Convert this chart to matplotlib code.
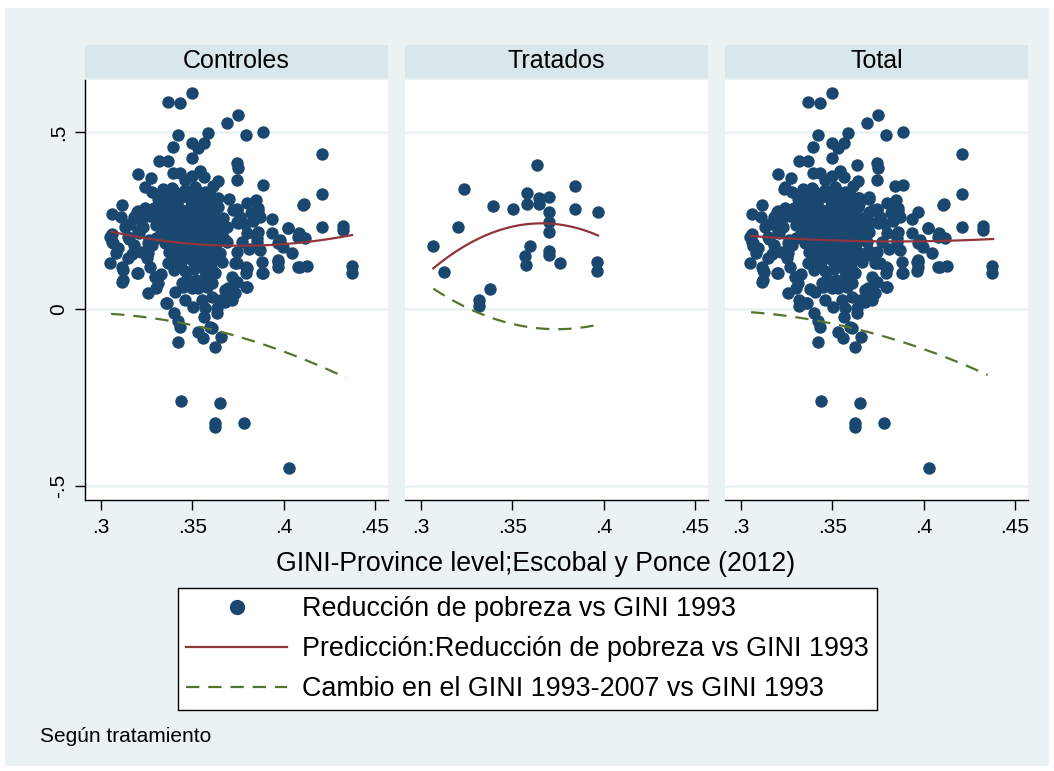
import numpy as np
import matplotlib
matplotlib.use("Agg")
import matplotlib.pyplot as plt
from matplotlib.lines import Line2D
from matplotlib.patches import Rectangle

plt.rcParams['font.family'] = ['Liberation Sans', 'DejaVu Sans']

# --- data ---
panels = ["Controles", "Tratados", "Total"]
xticks = [.3, .35, .4, .45]
xtick_labels = [".3", ".35", ".4", ".45"]
yticks = [-.5, 0, .5]
ytick_labels = ["-.5", "0", ".5"]

# Controles: GINI 1993 vs reduccion de pobreza
ctrl_x = [.350, .3368, .3431, .3748, .369, .3887, .3792, .3423, .3584, .3496, .3562, .3533, .3394, .3317, .3368,
          .3496, .3743, .3748, .3743, .3887, .3204, .3274, .3241, .3277, .3396, .3432, .3496, .3542, .3565, .3642,
          .3615, .346, .339, .346, .3514, .3642, .3848, .4107, .3117, .3062, .3108, .3201, .3241, .335, .3332,
          .3743, .3615, .3861, .387, .3934, .3743, .4025, .4085, .3798, .3232, .3062, .315, .3049, .3067, .3049,
          .3113, .315, .3201, .3117, .3256, .3356, .3401, .342, .342, .3505, .3565, .3533, .356, .3606, .3657,
          .3624, .3633, .3715, .3743, .3798, .3798, .3743, .3888, .3880, .397, .408, .4044, .397, .3852, .3934,
          .408, .3715, .3679, .3679, .3296, .3314, .3442, .346, .3405, .3533, .3551, .3606, .3606, .3606, .3624,
          .3587, .3368, .3259, .3259, .3438, .3651, .3624, .3624, .3784, .4029, .4208, .4208, .4113, .3743, .3748,
          .3861, .4025, .4117, .4208, .4326, .4326, .3861, .398, .3852, .3998, .387, .397, .397, .4089, .4126,
          .3733, .3792, .3792, .3883, .3743, .3792, .3697, .3733, .3715, .4375, .4375, .3679, .3195, .3059, .3155,
          .3122, .3195, .3119, .325, .3359, .3569, .3651, .3633, .3597, .3432,
          .334, .340, .345, .352, .357,
          .331, .338, .343, .349, .355, .360,
          .329, .336, .342, .347, .353, .358, .364,
          .327, .334, .339, .345, .350, .356, .361, .367,
          .330, .336, .341, .347, .352, .358, .363, .369,
          .333, .338, .344, .349, .355, .360, .366,
          .335, .341, .346, .352, .357, .363, .369,
          .337, .343, .348, .354, .359, .365,
          .339, .344, .350, .355, .361, .366,
          .340, .346, .351, .357,
          .347, .352, .357,
          .345, .350, .358,
          .318, .322, .316, .320, .318, .322, .317, .330, .328, .327, .333, .330,
          .376, .379, .382, .377, .381, .380, .383, .370, .372,
          .337, .343, .348, .354, .360,
          .332, .338, .344, .350, .356, .362,
          .331, .337, .343, .348, .354, .360, .366,
          .334, .340, .346, .351, .357, .363,
          .336, .342, .348, .353, .359, .365,
          .338, .343, .349, .355, .361,
          .341, .347, .353, .359,
          .313, .309, .324, .321, .326, .308]
ctrl_y = [.611, .585, .583, .548, .526, .501, .492, .492, .498, .470, .468, .454, .457, .418, .418,
          .426, .413, .397, .364, .350, .382, .369, .344, .331, .385, .383, .376, .391, .374, .362,
          .347, .364, .341, .336, .345, .313, .308, .294, .294, .268, .259, .278, .284, .313, .289,
          .282, .282, .278, .261, .253, .247, .230, .214, .214, .232, .212, .204, .204, .186, .129,
          .120, .143, .103, .077, .045, .018, -.012, -.033, -.094, .006, -.023, -.064, -.083, -.055, -.078,
          -.108, .002, .091, .129, .115, .063, .162, .101, .134, .134, .120, .157, .186, .200, .214,
          .204, .035, .021, .054, .091, .073, .073, .025, .049, .058, .025, .035, .073, .110, .101,
          .148, .129, .157, .186, -.259, -.266, -.321, -.332, -.321, -.448, .438, .324, .298, .280, .244,
          .284, .228, .200, .231, .234, .223, .218, .195, .190, .176, .167, .138, .120, .120, .121,
          .129, .120, .101, .101, .077, .061, .058, .044, .025, .121, .101, .195, .275, .190, .197,
          .110, .101, .082, .143, .016, .002, .025, -.012, -.050, -.050,
          .338, .333, .329, .336, .331,
          .312, .309, .314, .306, .311, .308,
          .286, .283, .288, .281, .287, .284, .289,
          .262, .258, .263, .257, .261, .259, .264, .256,
          .236, .233, .238, .231, .237, .234, .239, .232,
          .211, .208, .213, .206, .212, .209, .214,
          .186, .183, .188, .181, .187, .184, .189,
          .161, .158, .163, .156, .162, .159,
          .136, .133, .138, .131, .137, .134,
          .111, .108, .113, .106,
          .086, .083, .088,
          .061, .058, .063,
          .260, .250, .240, .220, .180, .160, .155, .200, .180, .120, .100, .060,
          .260, .240, .270, .190, .170, .300, .250, .310, .280,
          .322, .325, .320, .324, .319,
          .272, .275, .270, .274, .271, .276,
          .247, .244, .249, .246, .243, .248, .245,
          .223, .221, .226, .220, .224, .222,
          .196, .199, .194, .198, .195, .197,
          .172, .169, .174, .171, .168,
          .147, .149, .145, .148,
          .232, .171, .262, .215, .196, .157]

# Tratados
trat_x = [.3635, .3235, .3845, .3582, .3648, .3699, .3582, .3648, .3392, .3505, .3699, .3845, .3969, .3699, .3699,
          .3204, .3067, .3597, .3569, .3575, .3699, .3699, .3761, .3962, .3962, .3128, .3379, .3318, .3318]
trat_y = [.407, .338, .348, .327, .313, .317, .296, .296, .292, .282, .275, .282, .275, .247, .218,
          .231, .178, .178, .150, .123, .164, .153, .129, .132, .107, .105, .056, .025, .009]

# prediction curves
pred_x = {"Controles": [.3055, .346, .373, .410, .4374],
          "Tratados": [.3067, .3232, .3505, .3697, .3969],
          "Total": [.3055, .350, .380, .438]}
pred_y = {"Controles": [.218, .187, .179, .186, .210],
          "Tratados": [.115, .176, .231, .244, .207],
          "Total": [.206, .195, .190, .198]}
gini_x = {"Controles": [.3055, .3203, .339, .361, .390, .4106, .434],
          "Tratados": [.3067, .3296, .3515, .3715, .3969],
          "Total": [.3055, .316, .360, .435]}
gini_y = {"Controles": [-.019, -.017, -.031, -.054, -.110, -.144, -.190],
          "Tratados": [.056, -.003, -.045, -.059, -.043],
          "Total": [-.012, -.010, -.054, -.186]}

legend_labels = ["Reducción de pobreza vs GINI 1993",
                 "Predicción:Reducción de pobreza vs GINI 1993",
                 "Cambio en el GINI 1993-2007 vs GINI 1993"]

navy = '#1a476f'
red = '#90353b'
green = '#55752f'
bg = '#eaf2f3'
strip = '#d9e6eb'

W, H = 1054, 771
fig = plt.figure(figsize=(W / 100, H / 100), dpi=100)
fig.patch.set_facecolor('white')
fig.patches.append(Rectangle((5 / W, 1 - 766 / H), 1044 / W, 758 / H, transform=fig.transFigure,
                             facecolor=bg, edgecolor='none', zorder=-10))

scatter_data = {"Controles": (ctrl_x, ctrl_y),
                "Tratados": (trat_x, trat_y),
                "Total": (ctrl_x + trat_x, ctrl_y + trat_y)}

lefts = [85, 405, 725]
for i, name in enumerate(panels):
    ax = fig.add_axes([lefts[i] / W, 1 - 500 / H, 303 / W, 420 / H])
    ax.set_facecolor('white')
    sx, sy = scatter_data[name]
    ax.scatter(sx, sy, s=80, color=navy, linewidths=0, zorder=3)

    c = np.polyfit(pred_x[name], pred_y[name], 2)
    xs = np.linspace(min(pred_x[name]), max(pred_x[name]), 100)
    ax.plot(xs, np.polyval(c, xs), color=red, lw=1.6, zorder=4)

    c = np.polyfit(gini_x[name], gini_y[name], 2)
    xs = np.linspace(min(gini_x[name]), max(gini_x[name]), 100)
    ax.plot(xs, np.polyval(c, xs), color=green, lw=1.6, ls=(0, (6, 4)), zorder=4)

    ax.set_xlim(.2912, .4571)
    ax.set_ylim(-.5395, .6469)
    for yv in yticks:
        ax.axhline(yv, color=bg, lw=1.8, zorder=1)

    ax.set_xticks(xticks)
    ax.set_xticklabels(xtick_labels, fontsize=15)
    ax.tick_params(axis='x', length=7, width=1, pad=6)
    for s in ['top', 'right']:
        ax.spines[s].set_visible(False)
    ax.spines['bottom'].set_linewidth(1)
    if i == 0:
        ax.set_yticks(yticks)
        ax.set_yticklabels(ytick_labels, fontsize=15, rotation=90, va='center')
        ax.tick_params(axis='y', length=7, width=1, pad=5)
        ax.spines['left'].set_linewidth(1)
    else:
        ax.set_yticks([])
        ax.spines['left'].set_visible(False)

    # strip header
    fig.patches.append(Rectangle((lefts[i] / W, 1 - 78 / H), 303 / W, 33 / H, transform=fig.transFigure,
                                 facecolor=strip, edgecolor='none', zorder=-5))
    fig.text((lefts[i] + 151.5) / W, 1 - 61 / H, name, ha='center', va='center', fontsize=18)

fig.text(536 / W, 1 - 564 / H, "GINI-Province level;Escobal y Ponce (2012)", ha='center', va='center', fontsize=19.2)
fig.text(40 / W, 1 - 737 / H, "Según tratamiento", ha='left', va='center', fontsize=15)

handles = [Line2D([], [], marker='o', ls='none', color=navy, markersize=10),
           Line2D([], [], color=red, lw=1.6),
           Line2D([], [], color=green, lw=1.6, ls=(0, (6, 4)))]
leg = fig.legend(handles, legend_labels, loc='upper left', bbox_to_anchor=(178 / W, 1 - 588 / H),
                 frameon=True, fancybox=False, edgecolor='black', facecolor='white', framealpha=1,
                 fontsize=19.4, handlelength=3.75, handletextpad=0.56, borderpad=0.3,
                 labelspacing=0.52, borderaxespad=0)
leg.get_frame().set_linewidth(1)

fig.savefig("out.png", dpi=100, facecolor=fig.get_facecolor())
